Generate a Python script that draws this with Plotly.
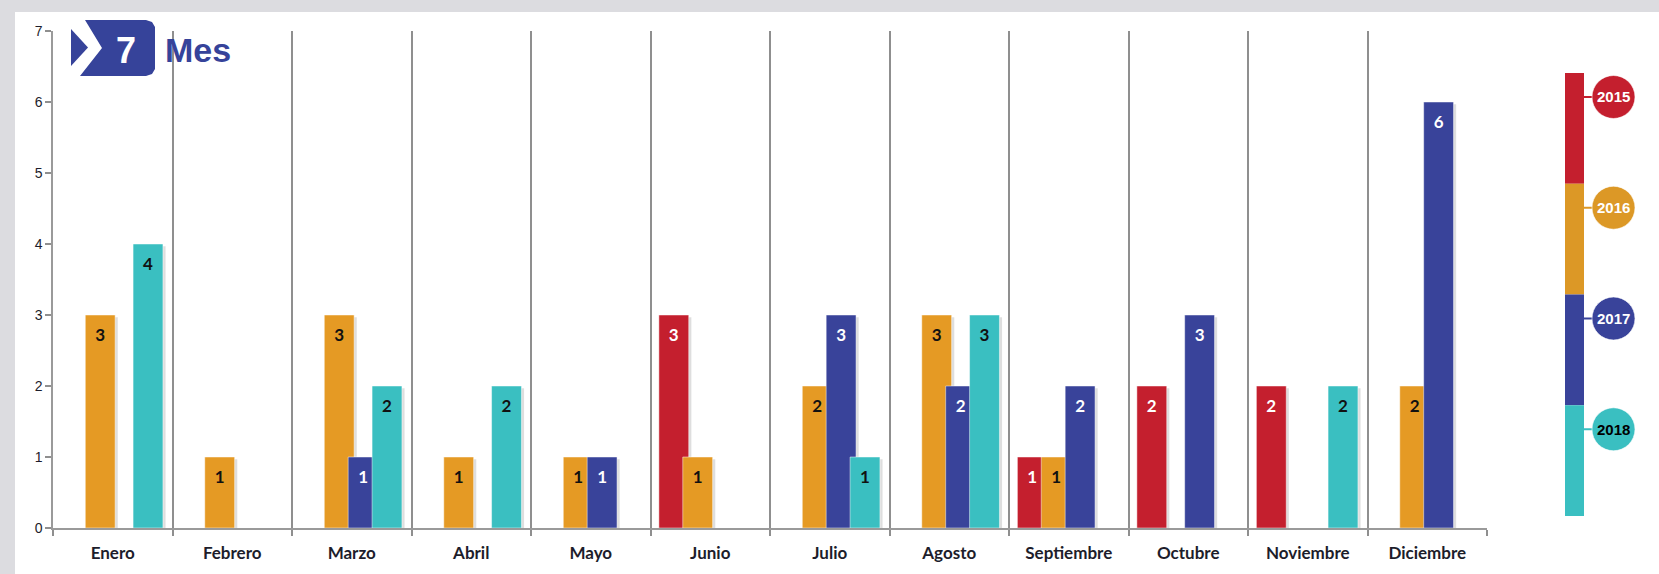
import plotly.graph_objects as go

# ---------------- data ----------------
months = ["Enero", "Febrero", "Marzo", "Abril", "Mayo", "Junio", "Julio",
          "Agosto", "Septiembre", "Octubre", "Noviembre", "Diciembre"]
years = ["2015", "2016", "2017", "2018"]
v2015 = [None, None, None, None, None, 3, None, None, 1, 2, 2, None]
v2016 = [3, 1, 3, 1, 1, 1, 2, 3, 1, None, None, 2]
v2017 = [None, None, 1, None, 1, None, 3, 2, 2, 3, None, 6]
v2018 = [4, None, 2, 2, None, None, 1, 3, None, None, 2, None]
series = [v2015, v2016, v2017, v2018]
y_ticks = [0, 1, 2, 3, 4, 5, 6, 7]

# ---------------- style ----------------
bar_colors = ["#c41f2e", "#e59a24", "#39439a", "#3abfc1"]
legend_colors = ["#c41f2e", "#dc9826", "#39439a", "#3abfc1"]
label_colors = ["white", "#111111", "white", "#111111"]
offsets = [-0.43, -0.23, -0.03, 0.17]
bar_w = 0.25
W, H = 1659, 574
PL, PR, PT, PB = 53, 1487, 31, 528


def xp(px):
    return (px - PL) / (PR - PL)


def yp(py):
    return (PB - py) / (PB - PT)


idx = list(range(len(months)))
fig = go.Figure()

# shadows
for s, off in zip(series, offsets):
    fig.add_trace(go.Bar(
        x=idx, y=[None if v is None else v - 0.03 for v in s],
        offset=off + 0.022, width=bar_w,
        marker=dict(color="rgba(0,0,0,0.13)", line=dict(width=0)),
        hoverinfo="skip", showlegend=False))

# bars
for yr, s, off, c in zip(years, series, offsets, bar_colors):
    fig.add_trace(go.Bar(
        x=idx, y=s, offset=off, width=bar_w, name=yr,
        marker=dict(color=c, line=dict(width=0.6, color="rgba(255,255,255,0.8)")),
        showlegend=False))

# value labels
for s, off, tc in zip(series, offsets, label_colors):
    xs = [i + off + bar_w / 2 for i, v in zip(idx, s) if v is not None]
    ys = [v - 0.3 for v in s if v is not None]
    ts = [str(v) for v in s if v is not None]
    fig.add_trace(go.Scatter(
        x=xs, y=ys, text=ts, mode="text", textposition="middle center",
        textfont=dict(family="Lato", size=17, color=tc, weight="bold"),
        hoverinfo="skip", showlegend=False))

shapes = []
annotations = []

# outer grey frame (top & left)
shapes.append(dict(type="rect", xref="paper", yref="paper", layer="above",
                   x0=xp(0), x1=xp(W), y0=yp(0), y1=yp(12),
                   fillcolor="#dcdce0", line=dict(width=0)))
shapes.append(dict(type="rect", xref="paper", yref="paper", layer="above",
                   x0=xp(0), x1=xp(15), y0=yp(0), y1=yp(H),
                   fillcolor="#dcdce0", line=dict(width=0)))

# logo "7 Mes"
blue = "#36439a"


def P(pts):
    return "M " + " L ".join(f"{xp(a):.5f},{yp(b):.5f}" for a, b in pts) + " Z"


shapes.append(dict(type="path", xref="paper", yref="paper", layer="above",
                   path=P([(71, 29), (88, 47.5), (71, 66)]),
                   fillcolor=blue, line=dict(width=0)))
shapes.append(dict(type="path", xref="paper", yref="paper", layer="above",
                   path=P([(85, 20), (146, 20), (152, 22), (155, 27), (155, 69),
                           (152, 74), (146, 76), (80, 76), (102, 48)]),
                   fillcolor=blue, line=dict(width=0)))
annotations.append(dict(xref="paper", yref="paper", x=xp(126), y=yp(50),
                        text="<b>7</b>", showarrow=False, xanchor="center", yanchor="middle",
                        font=dict(family="Liberation Sans", size=36, color="white")))
annotations.append(dict(xref="paper", yref="paper", x=xp(163), y=yp(50),
                        text="<b>Mes</b>", showarrow=False, xanchor="left", yanchor="middle",
                        font=dict(family="Liberation Sans", size=34, color=blue)))

# custom legend on the right
lx0, lx1 = 1565, 1584
ltop, lbot = 73, 516
seg = (lbot - ltop) / len(years)
for k, (yr, c) in enumerate(zip(years, legend_colors)):
    t = ltop + k * seg
    shapes.append(dict(type="rect", xref="paper", yref="paper", layer="above",
                       x0=xp(lx0), x1=xp(lx1), y0=yp(t + seg), y1=yp(t),
                       fillcolor=c, line=dict(width=0)))
    cy = t + 24
    shapes.append(dict(type="line", xref="paper", yref="paper", layer="above",
                       x0=xp(lx1), x1=xp(1593), y0=yp(cy), y1=yp(cy),
                       line=dict(color=c, width=2)))
    shapes.append(dict(type="circle", xref="paper", yref="paper", layer="above",
                       x0=xp(1592), x1=xp(1635), y0=yp(cy + 21.5), y1=yp(cy - 21.5),
                       fillcolor=c, line=dict(color="rgba(255,255,255,0.6)", width=1)))
    annotations.append(dict(xref="paper", yref="paper", x=xp(1613.5), y=yp(cy),
                            text=f"<b>{yr}</b>", showarrow=False,
                            xanchor="center", yanchor="middle",
                            font=dict(family="Liberation Sans", size=15,
                                      color="black" if k == 3 else "white")))

fig.update_layout(
    width=W, height=H,
    margin=dict(l=PL, r=W - PR, t=PT, b=H - PB, pad=0),
    paper_bgcolor="white", plot_bgcolor="white",
    barmode="overlay", showlegend=False,
    shapes=shapes, annotations=annotations,
    xaxis=dict(range=[-0.5, len(months) - 0.5], tickmode="array",
               tickvals=idx, ticktext=months, ticks="", showgrid=False,
               zeroline=False, showline=True, linecolor="#9a9a9a", linewidth=1.5,
               ticklabelstandoff=9,
               tickfont=dict(family="Lato", size=17, color="#1d1d2b", weight="bold"),
               minor=dict(tickmode="array", tickvals=[i - 0.5 for i in range(len(months) + 1)],
                          ticks="outside", ticklen=6, tickcolor="#8f8f8f", tickwidth=1.5,
                          showgrid=True, gridcolor="#8f8f8f", gridwidth=1.5),
               fixedrange=True),
    yaxis=dict(range=[0, 7], tickmode="array", tickvals=y_ticks,
               ticks="outside", ticklen=6, tickcolor="#8f8f8f", tickwidth=1.5,
               showgrid=False, zeroline=False, showline=True,
               linecolor="#9a9a9a", linewidth=1.5,
               tickfont=dict(family="Liberation Sans", size=14, color="#1d1d2b"),
               fixedrange=True),
)

fig.write_html("out.html", config={"displayModeBar": False},
               post_script="document.body.style.margin='0';document.body.style.overflow='hidden';")
